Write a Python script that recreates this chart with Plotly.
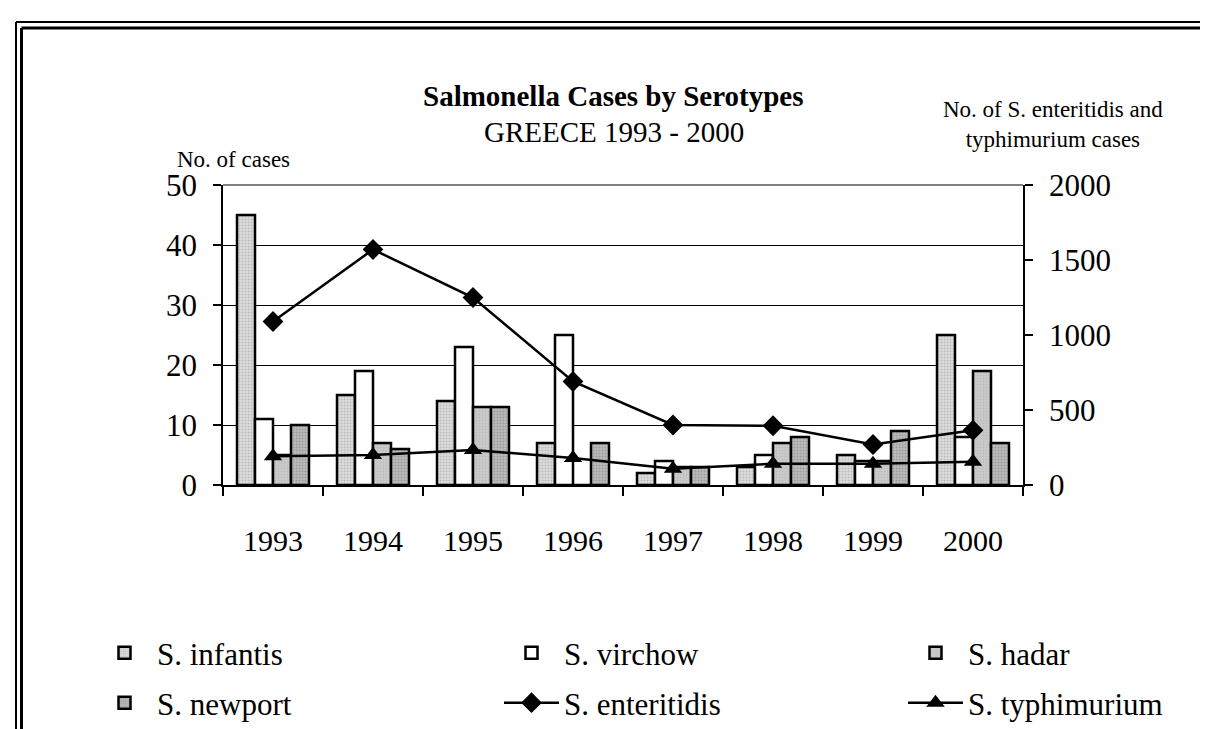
import plotly.graph_objects as go

years = ["1993", "1994", "1995", "1996", "1997", "1998", "1999", "2000"]
infantis = [45, 15, 14, 7, 2, 3, 5, 25]
virchow = [11, 19, 23, 25, 4, 5, 4, 8]
hadar = [5, 7, 13, 0, 3, 7, 4, 19]
newport = [10, 6, 13, 7, 3, 8, 9, 7]
enteritidis = [1090, 1570, 1250, 690, 400, 395, 270, 365]
typhimurium = [191, 200, 233, 180, 109, 142, 142, 155]

left_ticks = [0, 10, 20, 30, 40, 50]
right_ticks = [0, 500, 1000, 1500, 2000]

FONT = "Liberation Serif, 'Times New Roman', Times, serif"
W, H = 1208, 729
L, R, T, B = 215, 1015, 177, 477


def px(xp):
    return (xp - L) / (R - L)


def py(yp):
    return (B - yp) / (B - T)


fig = go.Figure()

bar_specs = [
    ("S. infantis", infantis, dict(fillmode="overlay", bgcolor="#dcdcdc", fgcolor="#9a9a9a", shape=".", size=3, solidity=0.35), "legend"),
    ("S. virchow", virchow, None, "legend3"),
    ("S. hadar", hadar, dict(fillmode="overlay", bgcolor="#cacaca", fgcolor="#adadad", shape=".", size=3, solidity=0.3), "legend5"),
    ("S. newport", newport, dict(fillmode="overlay", bgcolor="#bdbdbd", fgcolor="#7a7a7a", shape=".", size=3, solidity=0.4), "legend2"),
]
for name, vals, pat, lg in bar_specs:
    marker = dict(color="#ffffff", line=dict(color="#000000", width=2.5))
    if pat is not None:
        marker["color"] = pat["bgcolor"]
        marker["pattern"] = pat
    fig.add_trace(go.Bar(x=years, y=vals, name=name, marker=marker, legend=lg,
                         yaxis="y"))

fig.add_trace(go.Scatter(x=years, y=enteritidis, name="S. enteritidis", yaxis="y2",
                         mode="lines+markers", legend="legend4",
                         line=dict(color="#000000", width=2.5),
                         marker=dict(symbol="diamond", size=16, color="#000000")))
fig.add_trace(go.Scatter(x=years, y=typhimurium, name="S. typhimurium", yaxis="y2",
                         mode="lines+markers", legend="legend6",
                         line=dict(color="#000000", width=2.5),
                         marker=dict(symbol="triangle-up", size=16, color="#000000")))

legend_common = dict(font=dict(family=FONT, size=31, color="#000000"),
                     bgcolor="rgba(0,0,0,0)", itemwidth=55,
                     xref="container", yref="container",
                     xanchor="left", yanchor="middle", orientation="v")
col_text_x = [158, 565, 969]
row_y = [645, 695]
legend_positions = {
    "legend": (0, 0), "legend3": (1, 0), "legend5": (2, 0),
    "legend2": (0, 1), "legend4": (1, 1), "legend6": (2, 1),
}
legend_layout = {}
for key, (c, r) in legend_positions.items():
    d = dict(legend_common)
    d["x"] = (col_text_x[c] - 74) / W
    d["y"] = 1 - row_y[r] / H
    legend_layout[key] = d

shapes = [
    # plot top border (gray)
    dict(type="line", xref="paper", yref="paper", x0=0, x1=1, y0=1, y1=1,
         line=dict(color="#808080", width=2), layer="above"),
    # outer frame: double lines top/left, single bottom
    dict(type="line", xref="paper", yref="paper", x0=px(8), x1=px(1208), y0=py(14), y1=py(14),
         line=dict(color="#000000", width=2)),
    dict(type="line", xref="paper", yref="paper", x0=px(13.5), x1=px(1208), y0=py(20), y1=py(20),
         line=dict(color="#000000", width=3)),
    dict(type="line", xref="paper", yref="paper", x0=px(8), x1=px(8), y0=py(14), y1=py(729),
         line=dict(color="#000000", width=2)),
    dict(type="line", xref="paper", yref="paper", x0=px(13.5), x1=px(13.5), y0=py(20), y1=py(729),
         line=dict(color="#000000", width=3)),
    dict(type="line", xref="paper", yref="paper", x0=px(43), x1=px(1207), y0=py(723), y1=py(723),
         line=dict(color="#000000", width=2)),
]

annotations = [
    dict(text="<b>Salmonella Cases by Serotypes</b>", xref="paper", yref="paper",
         x=px(605), y=py(88), xanchor="center", yanchor="middle", showarrow=False,
         font=dict(family=FONT, size=29, color="#000000")),
    dict(text="GREECE 1993 - 2000", xref="paper", yref="paper",
         x=px(606), y=py(124), xanchor="center", yanchor="middle", showarrow=False,
         font=dict(family=FONT, size=29, color="#000000")),
    dict(text="No. of cases", xref="paper", yref="paper",
         x=px(225), y=py(151), xanchor="center", yanchor="middle", showarrow=False,
         font=dict(family=FONT, size=23, color="#000000")),
    dict(text="No. of S. enteritidis and<br>typhimurium cases", xref="paper", yref="paper",
         x=px(1045), y=py(116), xanchor="center", yanchor="middle", showarrow=False,
         font=dict(family=FONT, size=23, color="#000000")),
]

fig.update_layout(
    width=W, height=H,
    margin=dict(l=L, r=W - R, t=T, b=H - B, pad=0, autoexpand=False),
    paper_bgcolor="#ffffff", plot_bgcolor="#ffffff",
    font=dict(family=FONT, color="#000000"),
    barmode="group", bargap=0.28, bargroupgap=0,
    showlegend=True,
    xaxis=dict(type="category", categoryorder="array", categoryarray=years,
               tickson="boundaries", ticks="outside", ticklen=9, tickwidth=1.5,
               tickcolor="#000000", showline=True, linecolor="#000000", linewidth=1.5,
               showgrid=False, zeroline=False, ticklabelstandoff=28, automargin=False,
               tickangle=0,
               tickfont=dict(family=FONT, size=30, color="#000000")),
    yaxis=dict(range=[0, 50], tickvals=left_ticks, ticks="outside", ticklen=8,
               tickwidth=1.5, tickcolor="#000000", showline=True, linecolor="#000000",
               linewidth=1.5, showgrid=True, gridcolor="#000000", gridwidth=1,
               zeroline=False, ticklabelstandoff=10, automargin=False,
               tickfont=dict(family=FONT, size=31, color="#000000")),
    yaxis2=dict(range=[0, 2000], tickvals=right_ticks, overlaying="y", side="right",
                ticks="outside", ticklen=8, tickwidth=1.5, tickcolor="#000000",
                showline=True, linecolor="#000000", linewidth=1.5, showgrid=False,
                zeroline=False, ticklabelstandoff=10, automargin=False,
                tickfont=dict(family=FONT, size=31, color="#000000")),
    shapes=shapes,
    annotations=annotations,
    **legend_layout,
)

fig.write_html("out.html")
